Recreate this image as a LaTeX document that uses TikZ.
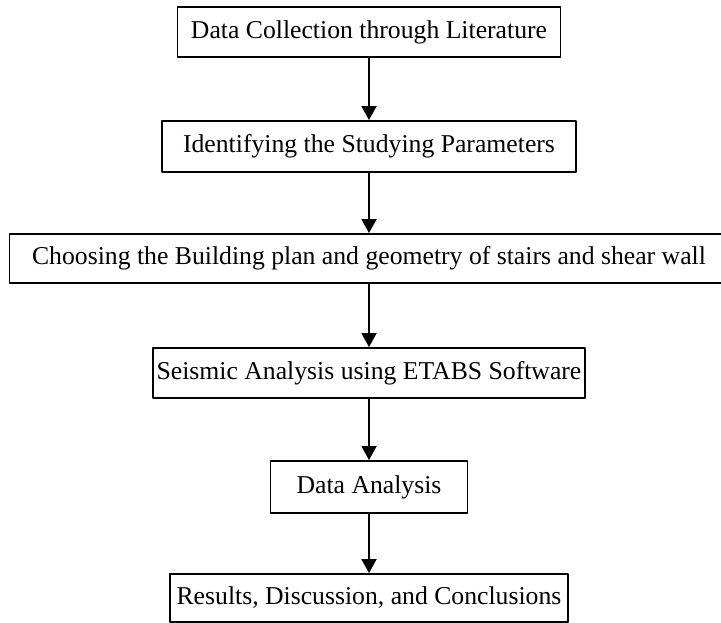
\documentclass[tikz,border=0pt]{standalone}
\usepackage{fontspec}
\setmainfont{Liberation Serif}
\usetikzlibrary{arrows.meta}
\begin{document}
\begin{tikzpicture}[>={Triangle[length=14bp,width=15bp]},line join=bevel,
    stepbox/.style={draw=black,line width=1.9bp,rectangle,inner sep=0pt,
      font=\fontsize{25.7bp}{30bp}\selectfont},
    flow/.style={->,line width=1.9bp}]
    %%
    \clip (0bp,0bp) rectangle (721bp,623bp);
    \node (collect) at (369.0bp,591.0bp) [stepbox,minimum width=383bp,minimum height=50bp] {Data Collection through Literature};
    \node (params) at (369.0bp,476.5bp) [stepbox,minimum width=414bp,minimum height=51bp] {Identifying the Studying Parameters};
    \node (plan) at (369.0bp,364.5bp) [stepbox,minimum width=719bp,minimum height=49bp] {Choosing the Building plan and geometry of stairs and shear wall};
    \node (seismic) at (369.0bp,250.0bp) [stepbox,minimum width=432bp,minimum height=50bp] {Seismic Analysis using ETABS Software};
    \node (analysis) at (369.0bp,136.0bp) [stepbox,minimum width=197bp,minimum height=52bp] {Data Analysis};
    \node (results) at (369.0bp,25.0bp) [stepbox,minimum width=398bp,minimum height=48bp] {Results, Discussion, and Conclusions};
    \draw [flow] (collect) -- (params);
    \draw [flow] (params) -- (plan);
    \draw [flow] (plan) -- (seismic);
    \draw [flow] (seismic) -- (analysis);
    \draw [flow] (analysis) -- (results);
    %
\end{tikzpicture}
\end{document}
